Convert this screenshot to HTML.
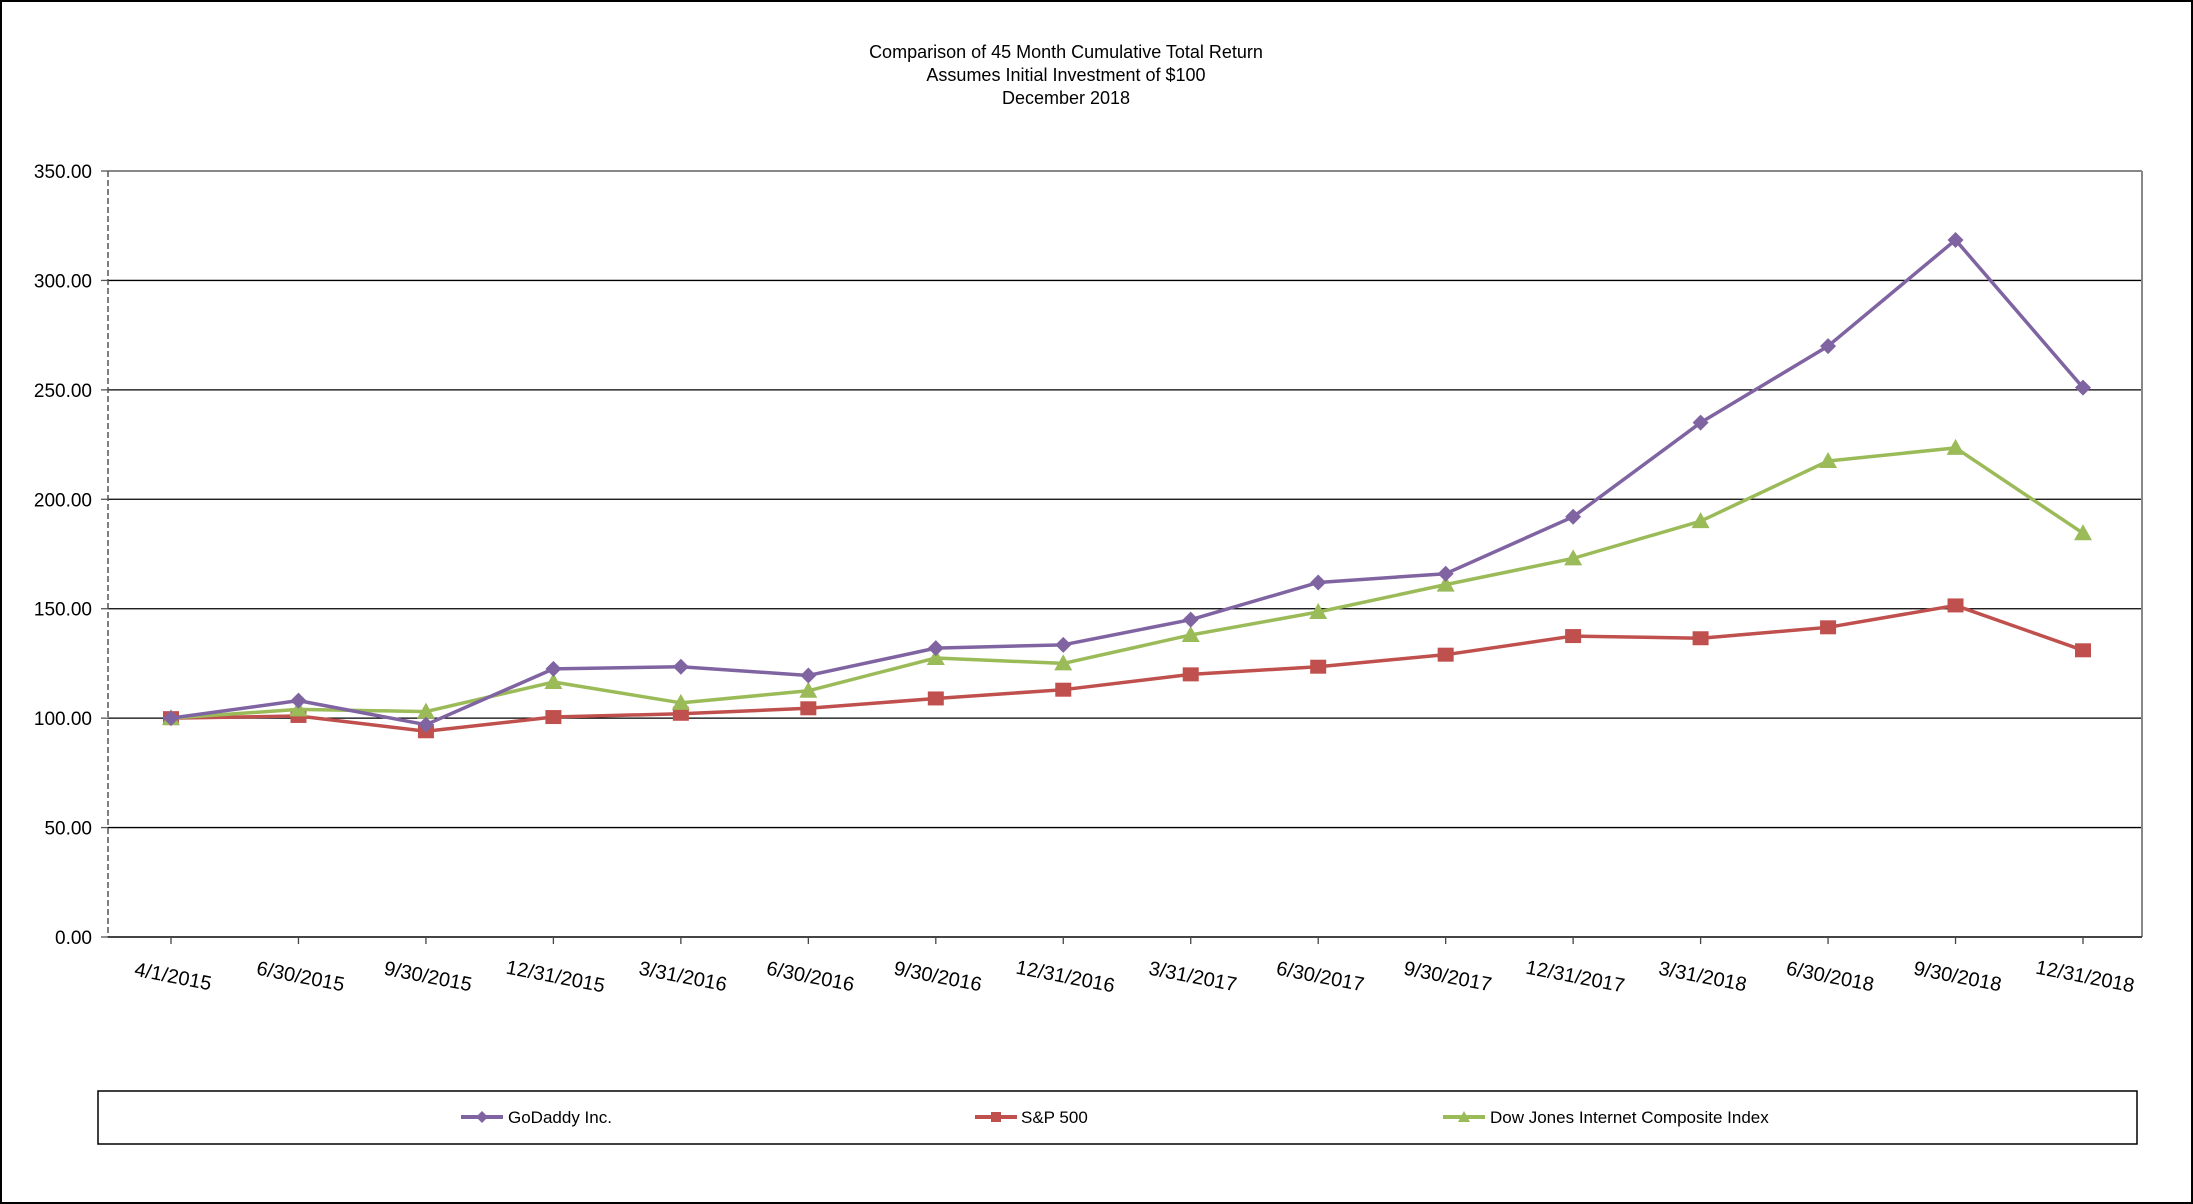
<!DOCTYPE html>
<html><head><meta charset="utf-8"><style>
html,body{margin:0;padding:0;background:#fff}
svg{display:block;font-family:"Liberation Sans",Arial,sans-serif}
</style></head><body>
<svg id="c" width="2193" height="1204" viewBox="0 0 2193 1204">
<rect x="1" y="1" width="2191" height="1202" fill="#fff" stroke="#000" stroke-width="2"/>
<g font-size="18" text-anchor="middle" fill="#000">
<text x="1066" y="58">Comparison of 45 Month Cumulative Total Return</text>
<text x="1066" y="81">Assumes Initial Investment of $100</text>
<text x="1066" y="104">December 2018</text>
</g>
<g id="grid"></g>
<g id="axes"></g>
<g id="series"></g>
<g>
<rect x="98" y="1091" width="2039" height="53" fill="#fff" stroke="#000" stroke-width="1.5"/>
<g>
<line x1="461" y1="1117" x2="503" y2="1117" stroke="#8064A2" stroke-width="4"/>
<path d="M482 1111 L488 1117 L482 1123 L476 1117Z" fill="#8064A2"/>
<text x="508" y="1123" font-size="17">GoDaddy Inc.</text></g>
<g>
<line x1="975" y1="1117" x2="1017" y2="1117" stroke="#C0504D" stroke-width="4"/>
<rect x="991" y="1112" width="10" height="10" fill="#C0504D"/>
<text x="1021" y="1123" font-size="17">S&amp;P 500</text></g>
<g>
<line x1="1443" y1="1117" x2="1485" y2="1117" stroke="#9BBB59" stroke-width="4"/>
<path d="M1464 1111 L1470 1122 L1458 1122Z" fill="#9BBB59"/>
<text x="1490" y="1123" font-size="17">Dow Jones Internet Composite Index</text></g>
</g>
</svg>
<script>
const categories=["4/1/2015","6/30/2015","9/30/2015","12/31/2015","3/31/2016","6/30/2016","9/30/2016","12/31/2016","3/31/2017","6/30/2017","9/30/2017","12/31/2017","3/31/2018","6/30/2018","9/30/2018","12/31/2018"];
const godaddy=[100,108,97,122.5,123.5,119.5,132,133.5,145,162,166,192,235,270,318.5,251];
const sp500=[100,101,94,100.5,102,104.5,109,113,120,123.5,129,137.5,136.5,141.5,151.5,131];
const dowjones=[100,104,103,116.5,107,112.5,127.5,125,138,148.5,161,173,190,217.5,223.5,184.5];
const yTicks=[0,50,100,150,200,250,300,350];
const NS="http://www.w3.org/2000/svg";
const L=108,R=2142,T=171,B=937,YMAX=350;
function xs(i){return 171+(2083-171)/(categories.length-1)*i;}
function ys(v){return B-(B-T)*v/YMAX;}
function mk(tag,attrs,parent){const e=document.createElementNS(NS,tag);for(const k in attrs)e.setAttribute(k,attrs[k]);parent.appendChild(e);return e;}
const grid=document.getElementById('grid'),axes=document.getElementById('axes'),ser=document.getElementById('series');
yTicks.forEach(v=>{
  const y=ys(v);
  if(v>0&&v<YMAX){const g=mk('line',{x1:L,x2:R,y1:y,y2:y,stroke:'#000','stroke-width':1.3},grid);
  
  }
  mk('line',{x1:L-7,x2:L,y1:y,y2:y,stroke:'#555','stroke-width':1.3},axes);
  const t=mk('text',{x:L-16,y:y+7,'font-size':19,'text-anchor':'end',fill:'#000'},axes);
  t.textContent=v.toFixed(2);
  
  
});
mk('line',{x1:L,x2:R,y1:T,y2:T,stroke:'#888','stroke-width':2},axes);
mk('line',{x1:R,x2:R,y1:T,y2:B,stroke:'#888','stroke-width':2},axes);
mk('line',{x1:L,x2:L,y1:T,y2:B,stroke:'#555','stroke-width':1.5,'stroke-dasharray':'6,3'},axes);
mk('line',{x1:L,x2:R,y1:B,y2:B,stroke:'#444','stroke-width':2},axes);
categories.forEach((c,i)=>{
  const x=xs(i);
  mk('line',{x1:x,x2:x,y1:B,y2:B+7,stroke:'#444','stroke-width':1.3},axes);
  const t=mk('text',{x:x+2,y:B+46,'font-size':20,'text-anchor':'middle',transform:'rotate(11 '+(x+2)+' '+(B+40)+')'},axes);
  t.textContent=c;
  
  
});
function drawSeries(data,color,shape,name){
  const g=mk('g',{},ser);
  
  
  mk('polyline',{points:data.map((v,i)=>xs(i)+','+ys(v)).join(' '),fill:'none',stroke:color,'stroke-width':3.5,'stroke-linejoin':'round'},g);
  data.forEach((v,i)=>{
    const x=xs(i),y=ys(v);let m;
    if(shape==='diamond')m=mk('path',{d:`M${x} ${y-8}L${x+8} ${y}L${x} ${y+8}L${x-8} ${y}Z`,fill:color},g);
    else if(shape==='square')m=mk('rect',{x:x-8,y:y-7,width:16,height:14,fill:color},g);
    else m=mk('path',{d:`M${x} ${y-9}L${x+9} ${y+7}L${x-9} ${y+7}Z`,fill:color},g);
    
    
  });
}
drawSeries(sp500,'#C0504D','square','series-sp500');
drawSeries(dowjones,'#9BBB59','triangle','series-dow-jones');
drawSeries(godaddy,'#8064A2','diamond','series-godaddy');
</script>
</body></html>
